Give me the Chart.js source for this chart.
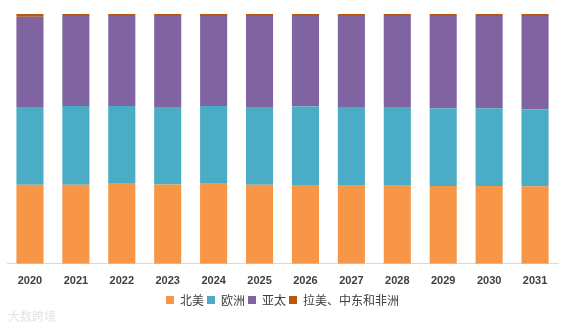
<!DOCTYPE html>
<html>
<head>
<meta charset="utf-8">
<script src="https://cdn.jsdelivr.net/npm/chart.js@4"></script>
<style>
  html, body { margin: 0; padding: 0; background: #fff; }
  #wrap { position: relative; width: 563px; height: 330px; }
  #mark { position: absolute; left: 8px; bottom: 6px; font: 12px "Noto Sans CJK SC", sans-serif; color: #e4e4e4; }
</style>
</head>
<body>
<div id="wrap">
  <canvas id="chart" width="563" height="330"></canvas>
  <div id="mark">大数跨境</div>
</div>
<script>
// Years and market share (%) by region
const years = ['2020', '2021', '2022', '2023', '2024', '2025', '2026', '2027', '2028', '2029', '2030', '2031'];
const northAmerica = [31.6, 31.6, 32.0, 31.7, 32.0, 31.6, 31.5, 31.2, 31.2, 31.1, 31.1, 31.0];
const europe = [31.2, 31.6, 31.2, 31.1, 31.2, 31.2, 31.5, 31.6, 31.6, 31.2, 31.2, 30.8];
const asiaPacific = [36.1, 36.0, 36.0, 36.4, 36.0, 36.4, 36.2, 36.4, 36.4, 36.9, 36.9, 37.4];
const lamea = [1.1, 0.8, 0.8, 0.8, 0.8, 0.8, 0.8, 0.8, 0.8, 0.8, 0.8, 0.8];

const seriesNames = ['北美', '欧洲', '亚太', '拉美、中东和非洲'];
const colors = ['#F79646', '#4BACC6', '#8064A2', '#B9580C'];

const ctx = document.getElementById('chart').getContext('2d');

new Chart(ctx, {
  type: 'bar',
  data: {
    labels: years,
    datasets: [northAmerica, europe, asiaPacific, lamea].map((d, i) => ({
      label: seriesNames[i],
      data: d,
      backgroundColor: colors[i],
      borderWidth: 0,
      barPercentage: 0.59,
      categoryPercentage: 1.0
    }))
  },
  options: {
    responsive: false,
    animation: false,
    layout: { padding: { left: 7, right: 5, top: 14, bottom: 14 } },
    scales: {
      x: {
        stacked: true,
        grid: { display: false },
        border: { color: '#d9d9d9' },
        ticks: { color: '#404040', font: { size: 11, weight: 'bold', family: 'Arial, "Liberation Sans"' }, padding: 3 }
      },
      y: {
        stacked: true,
        display: false,
        min: 0,
        max: 100
      }
    },
    plugins: {
      legend: {
        position: 'bottom',
        labels: {
          boxWidth: 8,
          boxHeight: 8,
          padding: 3,
          color: '#404040',
          font: { size: 12, family: '"Noto Sans CJK SC", sans-serif' }
        }
      },
      tooltip: { enabled: false }
    }
  }
});
</script>
</body>
</html>
